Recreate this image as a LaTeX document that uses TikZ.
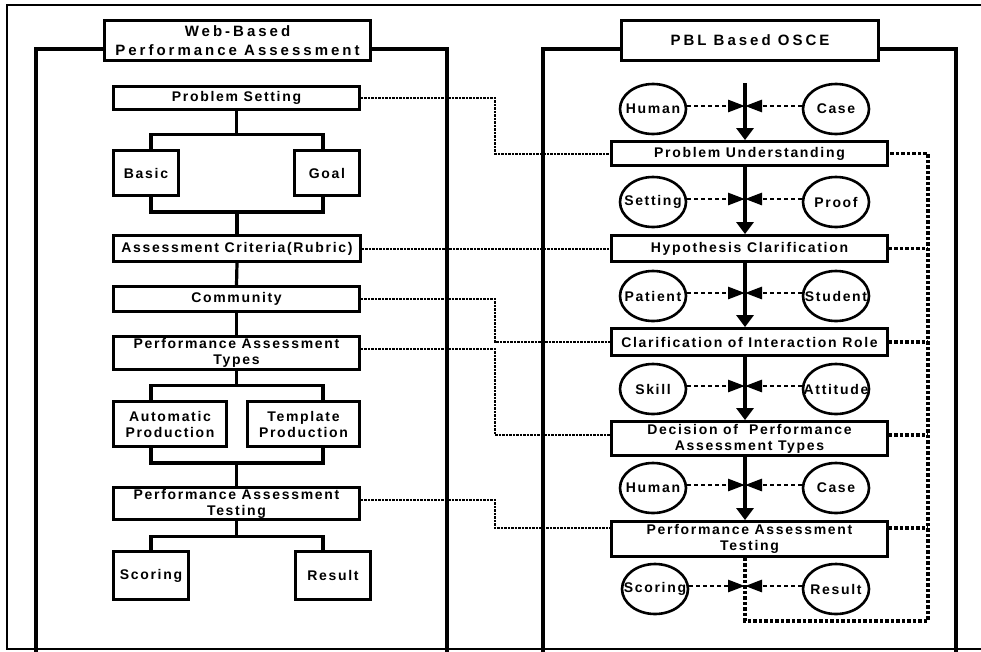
\documentclass[tikz,border=0pt]{standalone}
\usepackage{fontspec}
\setmainfont{Liberation Sans}[LetterSpace=12]
\usetikzlibrary{arrows.meta,shapes.geometric}
\newcommand{\zw}[1]{\makebox[0pt]{#1}}
\begin{document}
\begin{tikzpicture}[x=1pt,y=-1pt,
  box/.style={draw, fill=white, line width=2.8pt, rectangle, inner sep=0pt, align=center, font=\bfseries\fontsize{14}{16}\selectfont},
  ttl/.style={box, font=\bfseries\fontsize{15}{19}\selectfont\addfontfeature{LetterSpace=20}},
  ell/.style={draw, fill=white, ellipse, line width=2.6pt, minimum width=66pt, minimum height=50pt, inner sep=0pt, font=\bfseries\fontsize{14}{16}\selectfont},
  solidline/.style={line width=3.2pt},
  spine/.style={line width=3.2pt, -{Triangle[length=12pt,width=17pt]}},
  harrow/.style={line width=2.8pt, dash pattern=on 4pt off 3pt, -{Triangle[length=17pt,width=12pt]}},
  ldot/.style={line width=2pt, dash pattern=on 2.5pt off 1pt},
  rdot/.style={line width=3.3pt, dash pattern=on 3.5pt off 2pt},
  frame/.style={line width=3.2pt}
]
\useasboundingbox (0,0) rectangle (981,651);
\fill[white] (0,0) rectangle (981,651);
% outer frame
\draw[line width=2.2pt] (983,5) -- (7,5) -- (7,649) -- (983,649);
% panel frames
\draw[frame] (36,652) |- (110,49);
\draw[frame] (370,49) -| (447,652);
\draw[frame] (543,652) |- (630,49);
\draw[frame] (870,49) -| (956,652);

% titles
\node[ttl, minimum width=266pt, minimum height=40pt] (tl) at (237.5,40.5) {Web-Based\\Performance Assessment};
\node[ttl, minimum width=257pt, minimum height=40pt] (tr) at (750,40.5) {PBL Based OSCE};

% left column
\node[box, minimum width=246pt, minimum height=23pt] (ps) at (236.5,98) {Problem Setting};
\node[box, minimum width=65pt, minimum height=45pt] (basic) at (146,173) {Basic};
\node[box, minimum width=65pt, minimum height=45pt] (goal) at (327,173) {Goal};
\node[box, minimum width=247pt, minimum height=26pt] (ac) at (237,248.5) {\zw{Assessment Criteria(Rubric)}};
\node[box, minimum width=246pt, minimum height=25pt] (com) at (236.5,299) {Community};
\node[box, minimum width=246pt, minimum height=33pt] (pat) at (236.5,353) {Performance Assessment\\Types};
\node[box, minimum width=113pt, minimum height=45pt] (auto) at (170,424) {Automatic\\Production};
\node[box, minimum width=112pt, minimum height=45pt] (tmpl) at (303.5,424) {Template\\Production};
\node[box, minimum width=246pt, minimum height=32pt] (pt) at (236.5,503.5) {Performance Assessment\\Testing};
\node[box, minimum width=75pt, minimum height=48pt] (sc) at (151,575.5) {Scoring};
\node[box, minimum width=75pt, minimum height=48pt] (rs) at (333,575.5) {Result};

% left tree connectors
\draw[solidline] (ps.south) -- ++(0,23);
\draw[solidline] ([xshift=5pt]basic.north) -- ++(0,-15) -| ([xshift=-4pt]goal.north);
\draw[solidline] ([xshift=5pt]basic.south) -- ++(0,15) -| ([xshift=-4pt]goal.south);
\draw[solidline] (ac.north) -- ++(0,-22);
\draw[solidline] (ac.south) -- (com.north);
\draw[solidline] (com.south) -- (pat.north);
\draw[solidline] (pat.south) -- ++(0,14);
\draw[solidline] ([xshift=-19pt]auto.north) -- ++(0,-15) -| ([xshift=19.5pt]tmpl.north);
\draw[solidline] ([xshift=-19pt]auto.south) -- ++(0,15) -| ([xshift=19.5pt]tmpl.south);
\draw[solidline] (pt.north) -- ++(0,-23);
\draw[solidline] (pt.south) -- ++(0,15);
\draw[solidline] (sc.north) -- ++(0,-14) -| ([xshift=-10pt]rs.north);

% right column
\node[box, minimum width=276pt, minimum height=24pt] (pu) at (749.5,153.5) {Problem Understanding};
\node[box, minimum width=276pt, minimum height=26pt] (hc) at (749.5,248.5) {Hypothesis Clarification};
\node[box, minimum width=276pt, minimum height=27pt] (cir) at (749.5,342) {\zw{Clarification of Interaction Role}};
\node[box, minimum width=276pt, minimum height=34pt] (dpat) at (749.5,438.5) {Decision of~ Performance\\Assessment Types};
\node[box, minimum width=276pt, minimum height=35pt] (ptest) at (749.5,539) {Performance Assessment\\Testing};

\node[ell] (e1l) at (653,109) {\zw{Human}};
\node[ell] (e1r) at (836,109) {\zw{Case}};
\node[ell] (e2l) at (653,202) {\zw{Setting}};
\node[ell] (e2r) at (836,202) {\zw{Proof}};
\node[ell] (e3l) at (653,296) {\zw{Patient}};
\node[ell] (e3r) at (836,296) {\zw{Student}};
\node[ell] (e4l) at (653,389) {\zw{Skill}};
\node[ell] (e4r) at (836,389) {\zw{Attitude}};
\node[ell] (e5l) at (653,488) {\zw{Human}};
\node[ell] (e5r) at (836,488) {\zw{Case}};
\node[ell] (e6l) at (655,589) {\zw{Scoring}};
\node[ell] (e6r) at (836,589) {\zw{Result}};

% spine
\coordinate (s0) at (745,83);
\draw[spine] (s0) -- (s0 |- pu.north);
\draw[spine] (pu.south -| s0) -- (hc.north -| s0);
\draw[spine] (hc.south -| s0) -- (cir.north -| s0);
\draw[spine] (cir.south -| s0) -- (dpat.north -| s0);
\draw[spine] (dpat.south -| s0) -- (ptest.north -| s0);

% right dotted loop
\coordinate (rc) at (928,621);
\draw[rdot] (ptest.south -| s0) |- (rc) |- (pu.east);
\draw[rdot] (hc.east) -- (hc.east -| rc);
\draw[rdot] (cir.east) -- (cir.east -| rc);
\draw[rdot] ([yshift=3.5pt]dpat.east) -- ([yshift=3.5pt]dpat.east -| rc);
\draw[rdot] ([yshift=11pt]ptest.east) -- ([yshift=11pt]ptest.east -| rc);

% horizontal arrows
\foreach \i in {1,...,6}{
  \draw[harrow] ([yshift=3pt]e\i l.east) -- ([yshift=3pt]e\i l.east -| s0);
  \draw[harrow] ([yshift=3pt]e\i r.west) -- ([yshift=3pt]e\i r.west -| s0);
}

% cross connectors
\coordinate (mx) at (495,0);
\draw[ldot] (ps.east) -- (ps.east -| mx) |- (pu.west);
\draw[ldot] (ac.east) -- (hc.west);
\draw[ldot] (com.east) -- (com.east -| mx) |- (cir.west);
\draw[ldot] ([yshift=4pt]pat.east) -- ([yshift=4pt]pat.east -| mx) |- ([yshift=3.5pt]dpat.west);
\draw[ldot] ([yshift=3.5pt]pt.east) -- ([yshift=3.5pt]pt.east -| mx) |- ([yshift=11pt]ptest.west);
\end{tikzpicture}
\end{document}
